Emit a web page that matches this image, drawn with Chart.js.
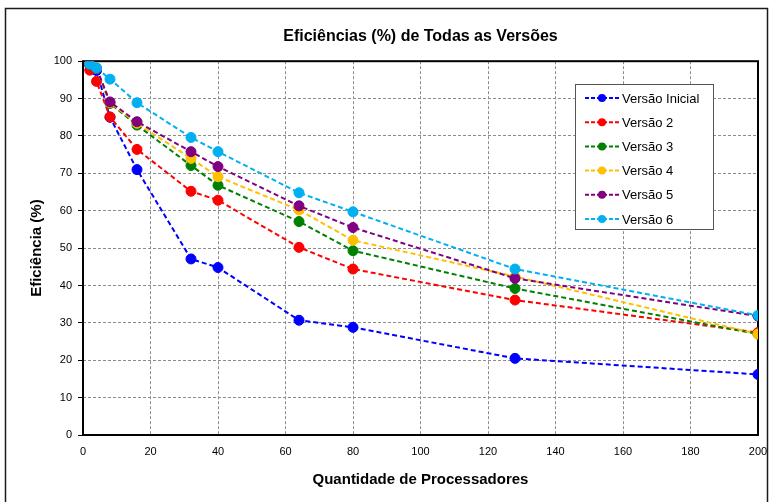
<!DOCTYPE html>
<html>
<head>
<meta charset="utf-8">
<script src="https://cdn.jsdelivr.net/npm/chart.js@4.4.1/dist/chart.umd.min.js"></script>
<style>
  html, body { margin: 0; padding: 0; background: #fff; }
  #wrap { position: relative; width: 771px; height: 502px; }
</style>
</head>
<body>
<div id="wrap"><canvas id="c" width="771" height="502"></canvas></div>
<script>
const processors = [2, 4, 8, 16, 32, 40, 64, 80, 128, 200];
const versaoInicial = [99.0, 97.5, 85.0, 71.0, 47.1, 44.8, 30.7, 28.8, 20.5, 16.2];
const versao2 = [97.6, 94.6, 85.1, 76.4, 65.2, 62.8, 50.2, 44.4, 36.1, 27.4];
const versao3 = [99.0, 98.0, 88.7, 82.9, 72.1, 66.8, 57.1, 49.3, 39.2, 27.0];
const versao4 = [99.1, 98.1, 88.9, 83.4, 74.0, 69.1, 60.2, 52.1, 42.4, 27.0];
const versao5 = [99.1, 98.1, 89.1, 83.8, 75.8, 71.8, 61.3, 55.5, 41.9, 31.8];
const versao6 = [99.2, 98.2, 95.2, 88.9, 79.6, 75.8, 64.8, 59.7, 44.4, 32.0];
const seriesNames = ['Versão Inicial', 'Versão 2', 'Versão 3', 'Versão 4', 'Versão 5', 'Versão 6'];
const seriesValues = [versaoInicial, versao2, versao3, versao4, versao5, versao6];
const seriesColors = ['#0000FF', '#FF0000', '#008000', '#FFC000', '#800080', '#00B0F0'];
const chartTitle = 'Eficiências (%) de Todas as Versões';
const xTitle = 'Quantidade de Processadores';
const yTitle = 'Eficiência (%)';

const FONT = "'Liberation Sans', Arial, sans-serif";

const datasets = seriesValues.map((vals, i) => ({
  label: seriesNames[i],
  data: processors.map((x, j) => ({x: x, y: vals[j]})),
  borderColor: seriesColors[i],
  backgroundColor: seriesColors[i],
  pointBackgroundColor: seriesColors[i],
  pointBorderColor: seriesColors[i],
  borderWidth: 2,
  borderDash: [5, 3],
  pointRadius: 5,
  pointBorderWidth: 1,
  tension: 0,
  order: seriesValues.length - i
}));

const framePlugin = {
  id: 'frame',
  beforeDraw(chart) {
    const ctx = chart.ctx;
    ctx.save();
    ctx.fillStyle = '#fff';
    ctx.fillRect(0, 0, chart.width, chart.height);
    ctx.strokeStyle = '#1a1a1a';
    ctx.lineWidth = 1.5;
    ctx.strokeRect(5.5, 8.5, 762, 600);
    ctx.restore();
  },
  beforeDatasetsDraw(chart) {
    const {ctx, chartArea: a} = chart;
    ctx.save();
    ctx.strokeStyle = '#000';
    ctx.lineWidth = 2;
    ctx.strokeRect(a.left, a.top, a.right - a.left, a.bottom - a.top);
    ctx.restore();
  }
};

const legendPlugin = {
  id: 'boxLegend',
  afterDraw(chart) {
    const ctx = chart.ctx;
    const bx = 575.5, by = 84.5, bw = 138, bh = 145;
    ctx.save();
    ctx.fillStyle = '#fff';
    ctx.fillRect(bx, by, bw, bh);
    ctx.strokeStyle = '#555';
    ctx.lineWidth = 1;
    ctx.strokeRect(bx, by, bw, bh);
    ctx.font = '13px ' + FONT;
    ctx.textBaseline = 'middle';
    chart.data.datasets.forEach((ds, i) => {
      const y = 98 + i * 24.2;
      ctx.strokeStyle = ds.borderColor;
      ctx.lineWidth = 2;
      ctx.setLineDash([4, 2]);
      ctx.beginPath();
      ctx.moveTo(585, y);
      ctx.lineTo(619, y);
      ctx.stroke();
      ctx.setLineDash([]);
      ctx.fillStyle = ds.borderColor;
      ctx.beginPath();
      ctx.arc(602, y, 4, 0, Math.PI * 2);
      ctx.fill();
      ctx.fillStyle = '#000';
      ctx.fillText(ds.label, 622, y + 1);
    });
    ctx.restore();
  }
};

new Chart(document.getElementById('c'), {
  type: 'line',
  data: { datasets: datasets },
  options: {
    responsive: false,
    animation: false,
    layout: { padding: { left: 0, right: 13, top: 0, bottom: 0 } },
    plugins: {
      legend: { display: false },
      tooltip: { enabled: false },
      title: {
        display: true,
        text: chartTitle,
        fullSize: false,
        color: '#000',
        font: { family: FONT, size: 16, weight: 'bold' },
        padding: { top: 27, bottom: 15 }
      }
    },
    scales: {
      x: {
        type: 'linear',
        min: 0, max: 200,
        afterFit(s) { s.height = 67; s.paddingLeft = 0; s.paddingRight = 0; },
        ticks: { stepSize: 20, color: '#000', font: { family: FONT, size: 11 }, padding: 10, maxRotation: 0 },
        grid: { color: '#8c8c8c', lineWidth: 1, drawTicks: false },
        border: { display: false, dash: [3, 2] },
        title: {
          display: true, text: xTitle, color: '#000',
          font: { family: FONT, size: 15, weight: 'bold' },
          padding: { top: 0, bottom: 13 }
        }
      },
      y: {
        min: 0, max: 100,
        afterFit(s) { s.width = 83; s.paddingTop = 0; s.paddingBottom = 0; },
        ticks: { stepSize: 10, color: '#000', font: { family: FONT, size: 11 }, padding: 6 },
        grid: { color: '#8c8c8c', lineWidth: 1, drawTicks: true, tickLength: 5, tickColor: '#000', tickBorderDash: [] },
        border: { display: false, dash: [3, 2] },
        title: {
          display: true, text: yTitle, color: '#000',
          font: { family: FONT, size: 15, weight: 'bold' },
          padding: { top: 28, bottom: 0 }
        }
      }
    }
  },
  plugins: [framePlugin, legendPlugin]
});
</script>
</body>
</html>
